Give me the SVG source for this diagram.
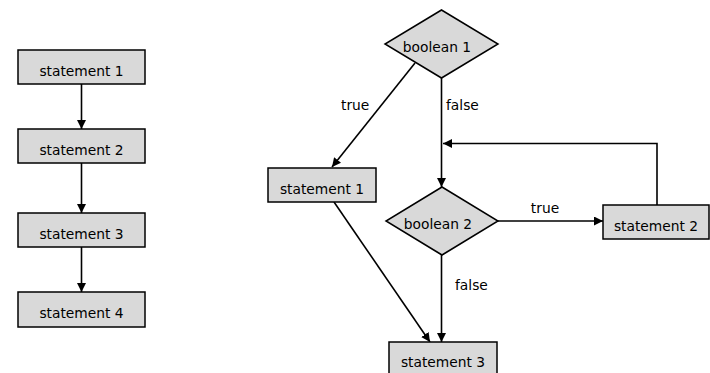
<svg xmlns="http://www.w3.org/2000/svg" width="710" height="373" viewBox="0 0 710 373">
<style>
.box{fill:#d9d9d9;stroke:#000;stroke-width:1.5}
.t{font-family:"DejaVu Sans",sans-serif;font-size:13.8px;fill:#000}
.c{text-anchor:middle}
.ln{stroke:#000;stroke-width:1.6;fill:none}
</style>
<defs>
<marker id="ah" viewBox="0 0 10 10" refX="10" refY="5" markerWidth="9" markerHeight="9" markerUnits="userSpaceOnUse" orient="auto">
<path d="M0,0 L10,5 L0,10 z" fill="#000"/>
</marker>
</defs>
<rect width="710" height="373" fill="#fff"/>
<g id="connectors">
<line class="ln" x1="81.5" y1="84" x2="81.5" y2="129" marker-end="url(#ah)"/>
<line class="ln" x1="81.5" y1="163" x2="81.5" y2="213" marker-end="url(#ah)"/>
<line class="ln" x1="81.5" y1="247" x2="81.5" y2="292" marker-end="url(#ah)"/>
<line class="ln" x1="415" y1="63" x2="332" y2="167" marker-end="url(#ah)"/>
<line class="ln" x1="441.5" y1="78" x2="441.5" y2="187" marker-end="url(#ah)"/>
<polyline class="ln" points="657,205 657,143.5 443,143.5" marker-end="url(#ah)"/>
<line class="ln" x1="498" y1="221" x2="603" y2="221" marker-end="url(#ah)"/>
<line class="ln" x1="441.5" y1="255" x2="441.5" y2="342" marker-end="url(#ah)"/>
<line class="ln" x1="334" y1="202" x2="430" y2="342" marker-end="url(#ah)"/>
<text class="t" x="341" y="110">true</text>
<text class="t" x="446" y="110">false</text>
<text class="t c" x="545" y="213">true</text>
<text class="t" x="455" y="290">false</text>
</g>
<g id="s1"><rect class="box" x="18" y="50" width="127" height="34"/><text class="t c" x="81.5" y="76">statement 1</text></g>
<g id="s2"><rect class="box" x="18" y="129" width="127" height="34"/><text class="t c" x="81.5" y="155">statement 2</text></g>
<g id="s3"><rect class="box" x="18" y="213" width="127" height="34"/><text class="t c" x="81.5" y="239">statement 3</text></g>
<g id="s4"><rect class="box" x="18" y="292" width="127" height="35"/><text class="t c" x="81.5" y="318">statement 4</text></g>
<g id="b1"><polygon class="box" points="441.5,10 498,44 441.5,78 385,44"/><text class="t c" x="437" y="52">boolean 1</text></g>
<g id="rs1"><rect class="box" x="268" y="168" width="108" height="34"/><text class="t c" x="322" y="194">statement 1</text></g>
<g id="b2"><polygon class="box" points="442,187 498,221 442,255 386,221"/><text class="t c" x="438" y="229">boolean 2</text></g>
<g id="rs2"><rect class="box" x="603" y="205" width="106" height="34"/><text class="t c" x="656" y="231">statement 2</text></g>
<g id="rs3"><rect class="box" x="389" y="342" width="108" height="40"/><text class="t c" x="443" y="367">statement 3</text></g>
</svg>
